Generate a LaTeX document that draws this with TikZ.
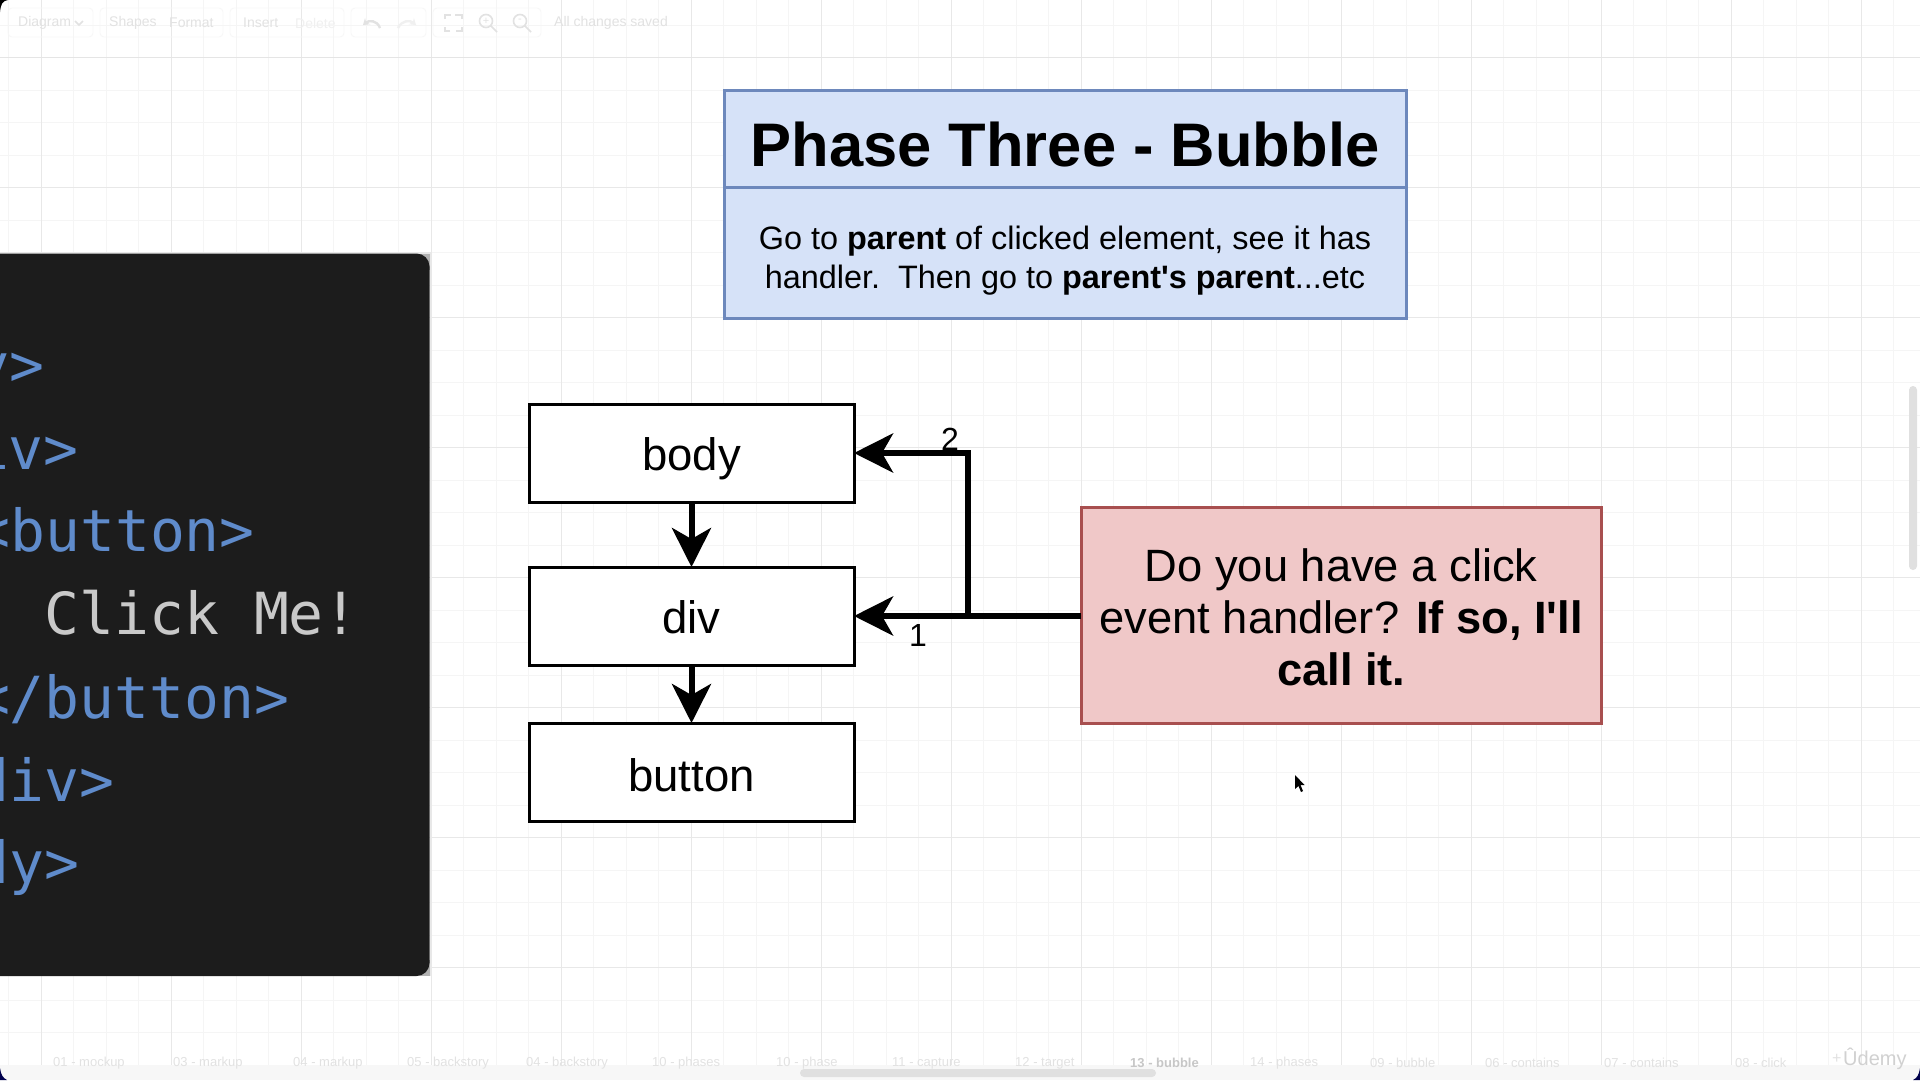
\documentclass[tikz,border=0pt]{standalone}
\usepackage{fontspec}
\usepackage{xcolor}
\setmainfont{Liberation Sans}[Ligatures=TeXOff]
\newfontfamily\codefont{DejaVu Sans Mono}[Ligatures=TeXOff]
\usetikzlibrary{arrows.meta}
\definecolor{headfill}{HTML}{D6E2F8}
\definecolor{headline}{HTML}{6D88BC}
\definecolor{redfill}{HTML}{F0C8C8}
\definecolor{redline}{HTML}{A84F4F}
\definecolor{codebg}{HTML}{1C1C1C}
\definecolor{codeblue}{HTML}{5F8BCB}
\definecolor{codegrey}{HTML}{C9C9C9}
\definecolor{faint}{HTML}{E2E2E2}
\newcommand{\sz}[2]{\fontsize{#1}{#2}\selectfont}

\begin{document}
\begin{tikzpicture}[x=1pt,y=-1pt]
    \tikzstyle{headbox} = [draw=headline, fill=headfill, line width=3pt, minimum width=682pt, inner sep=0pt, outer sep=0pt, align=center]
    \tikzstyle{elembox} = [draw=black, fill=white, line width=3pt, minimum width=325pt, minimum height=98pt, inner sep=0pt, outer sep=0pt, text height=35pt, text depth=0pt, font=\sz{45.5}{52}]
    \tikzstyle{flow} = [line width=6pt, -{Stealth[length=39pt, width=39pt, inset=11pt]}]
    \tikzstyle{stepnum} = [inner sep=0pt, font=\sz{32}{38}]
    \tikzstyle{codeline} = [anchor=base east, inner sep=0pt, font=\codefont\sz{58}{68}, text=codeblue]
    \tikzstyle{chrome} = [inner sep=0pt, font=\sz{14}{16}, text=faint]
    \tikzstyle{chromebtn} = [draw=black!3, rounded corners=4pt, line width=0.8pt]
    \tikzstyle{chromeicon} = [draw=faint, line width=1.6pt]

    \useasboundingbox (0,0) rectangle (1920,1080);
    \fill[white] (0,0) rectangle (1920,1080);

    % page grid
    \begin{scope}
        \clip (0,0) rectangle (1920,1065);
        \begin{scope}[shift={(41.3,57.5)}, y=1pt, yscale=-1]
            \draw[step=32.5, black!4, line width=0.8pt] (-65,-65) grid (1885,1040);
            \draw[step=130, black!9, line width=0.8pt] (-65,-65) grid (1885,1040);
        \end{scope}
    \end{scope}
    \draw[black!10, line width=1pt] (0,57.5) -- (1920,57.5);

    % toolbar
    \foreach \xa/\xb in {8/93, 100/223, 230/344, 351/426, 433/541} {
        \draw[chromebtn] (\xa,8) rectangle (\xb,37);
    }
    \foreach \xpos/\word in {18/Diagram, 109/Shapes, 169/Format, 243/Insert, 554/All changes saved} {
        \node[chrome, anchor=west] at (\xpos,23) {\word};
    }
    \node[chrome, anchor=west, text=black!6] at (295,23) {Delete};
    \draw[chromeicon] (75,21) -- (79,25) -- (83,21);
    \draw[chromeicon, line width=2.4pt, -{Stealth[length=6pt, width=8pt]}] (380,28) .. controls (377,20) and (369,20) .. (363,25);
    \draw[chromeicon, line width=2.4pt, black!6, -{Stealth[length=6pt, width=8pt]}] (398,28) .. controls (402,20) and (410,20) .. (416,25);
    \draw[chromeicon] (445,19) |- (451,15) (455,15) -| (462,19) (462,27) |- (456,31) (450,31) -| (445,27);
    \foreach \xpos/\mark in {486/+, 520/-} {
        \draw[chromeicon] (\xpos,21) circle (6.5) (\xpos+5,26) -- (\xpos+11,32);
        \node[chrome, font=\sz{11}{12}] at (\xpos,21) {\mark};
    }

    % bottom bar
    \fill[black!3] (0,1065) rectangle (1920,1080);
    \fill[black!12, rounded corners=4pt] (800,1069) rectangle (1156,1077);
    \fill[black!12, rounded corners=4pt] (1909,386) rectangle (1917,570);
    \foreach \xpos/\word in {53/01 - mockup, 173/03 - markup, 293/04 - markup, 407/05 - backstory, 526/04 - backstory, 652/10 - phases, 776/10 - phase, 892/11 - capture, 1015/12 - target, 1250/14 - phases, 1370/09 - bubble, 1485/06 - contains, 1604/07 - contains, 1735/08 - click} {
        \node[chrome, anchor=west, font=\sz{13}{15}] at (\xpos,1063) {\word};
    }
    \node[chrome, anchor=west, font=\bfseries\sz{13}{15}, text=black!22] at (1130,1063) {13 - bubble};
    \node[chrome, anchor=west, font=\sz{16}{18}] at (1832,1059) {+};
    \node[chrome, anchor=west, font=\sz{20}{22}, text=black!18] at (1843,1059) {Ûdemy};

    % code panel
    \fill[black!30] (415,253.5) rectangle (430,270);
    \fill[black!30] (415,960) rectangle (430,976);
    \draw[black!9, line width=1.5pt] (0,253) -- (431,253) -- (431,976);
    \begin{scope}
        \clip (0,0) rectangle (1920,1080);
        \fill[codebg, rounded corners=13pt] (-30,253.5) rectangle (429.5,976);
        \node[codeline] (bodyopen) at (45,385) {<body>};
        \node[codeline] (divopen) at (79,469.5) {<div>};
        \node[codeline] (btnopen) at (255,551) {<button>};
        \node[codeline, text=codegrey] (btntext) at (359,634.5) {Click Me!};
        \node[codeline] (btnclose) at (289.5,718) {</button>};
        \node[codeline] (divclose) at (114.5,801.5) {</div>};
        \node[codeline] (bodyclose) at (79.5,883) {</body>};
    \end{scope}

    % heading
    \node[headbox, minimum height=97pt, text height=54pt, text depth=0pt, font=\bfseries\sz{61.5}{70}] (title) at (1065,139) {Phase Three - Bubble};
    \node[headbox, minimum height=130.5pt, font=\sz{32.4}{39}] (subtitle) at (1065,252.75) {\rule{0pt}{39pt}Go to \textbf{parent} of clicked element, see it has\\handler.\ \ Then go to \textbf{parent's parent}...etc};

    % tree
    \node[elembox] (body) at (691.5,453) {body};
    \node[elembox] (div) at (691.5,616) {div};
    \node[elembox, text height=39pt] (button) at (691.5,772) {button};
    \draw[flow] (body) -- (div);
    \draw[flow] (div) -- (button);

    \node[draw=redline, fill=redfill, line width=3pt, minimum width=520.5pt, minimum height=216pt, inner sep=0pt, outer sep=0pt, align=center, font=\sz{45.3}{52}] (asker) at (1341.25,615) {\rule{0pt}{37pt}Do you have a click\\event handler? \textbf{If so, I'll}\\\textbf{call it.}};

    \coordinate (fork) at (968,616);
    \draw[flow] (asker.west |- fork) -- (div.east);
    \draw[flow] (fork) |- (body.east);
    \node[stepnum] (one) at (918,635) {1};
    \node[stepnum] (two) at (950,439) {2};

    % mouse pointer
    \fill[black] (1295,775) -- (1295,789) -- (1298.5,786) -- (1301,792) -- (1303,791) -- (1300.5,785) -- (1304.5,785) -- cycle;

    % window corners
    \fill[black] (0,0) -- (8,0) .. controls (2,1) and (1,4) .. (0,12) -- cycle;
    \fill[black!70!blue] (0,1080) -- (7,1080) .. controls (3,1078) and (1,1075) .. (0,1068) -- cycle;
    \fill[black!70!blue] (1920,1080) -- (1913,1080) .. controls (1917,1078) and (1919,1075) .. (1920,1068) -- cycle;
\end{tikzpicture}
\end{document}
